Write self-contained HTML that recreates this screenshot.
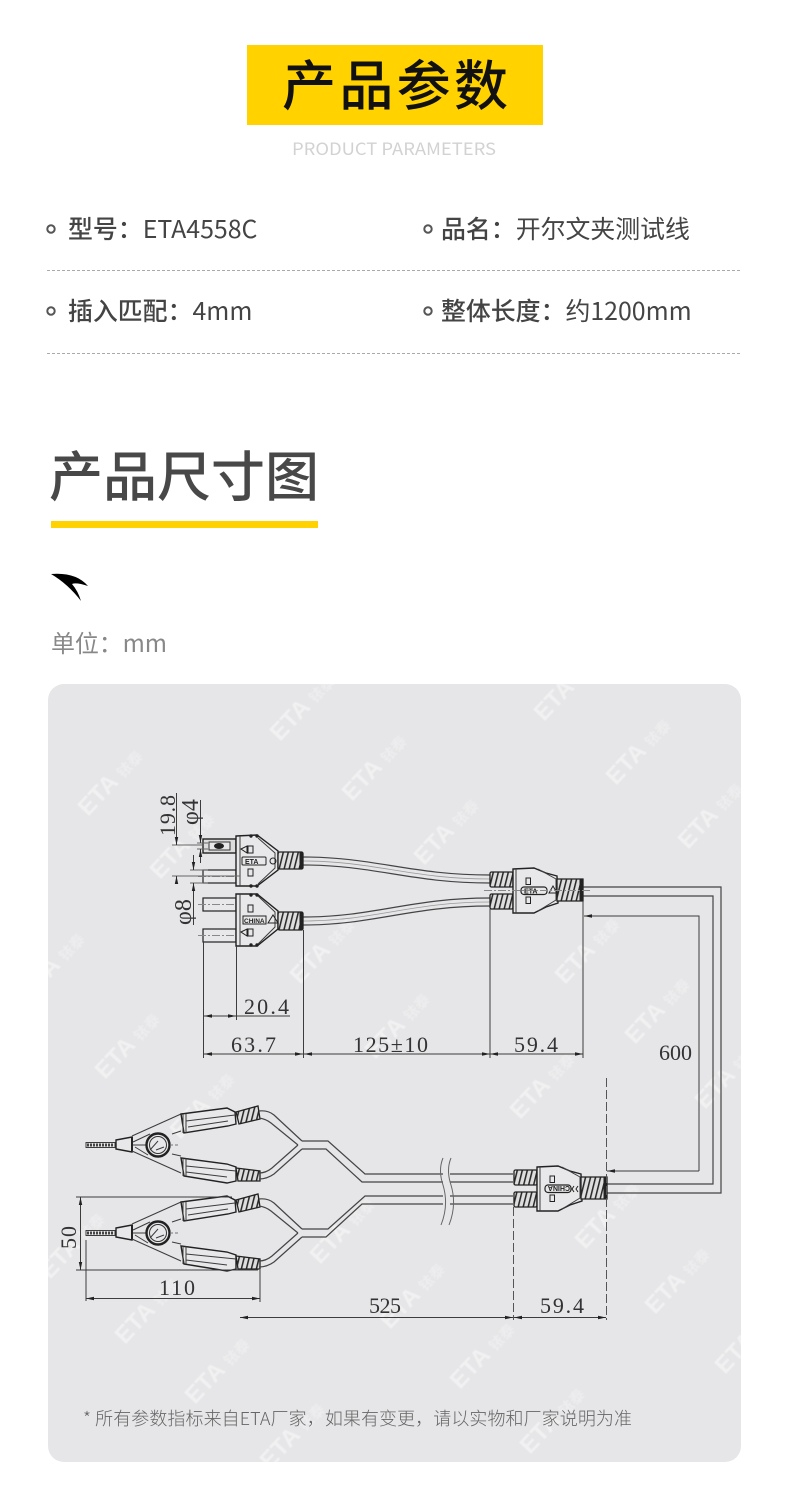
<!DOCTYPE html>
<html lang="zh"><head><meta charset="utf-8"><style>
html,body{margin:0;padding:0;background:#fff}
svg{display:block}
.n{font-family:"Noto Sans CJK SC","Liberation Sans",sans-serif}
.d{font-family:"Liberation Serif","Noto Serif CJK SC",serif;font-size:22px;fill:#333}
.wm{font-family:"Liberation Sans","Noto Sans CJK SC",sans-serif;font-weight:700;font-size:24px;fill:#fff;fill-opacity:.45}
.wm tspan{font-size:15px;fill-opacity:.3}
.l{fill:none;stroke:#3c3c3c;stroke-width:1}
.g{fill:none;stroke:#666;stroke-width:1}
.c{fill:none;stroke:#444;stroke-width:1.2}
.s{fill:url(#h);stroke:#222;stroke-width:1.3}
.b{fill:#e8e8ea;stroke:#222;stroke-width:1.4}
.t{font-family:"Liberation Sans",sans-serif;font-weight:700;font-size:7px;fill:#222}
</style></head><body>
<svg width="790" height="1509" viewBox="0 0 790 1509" xmlns="http://www.w3.org/2000/svg">
<defs>
<pattern id="h" width="5" height="8" patternUnits="userSpaceOnUse" patternTransform="skewX(-14)">
<rect width="5" height="8" fill="#dedede"/><rect width="1.6" height="8" fill="#2a2a2a"/></pattern>
<marker id="a" markerWidth="9" markerHeight="5" refX="8" refY="2.5" orient="auto-start-reverse" markerUnits="userSpaceOnUse"><path d="M0 .8L8 2.5L0 4.2Z" fill="#222"/></marker>
<clipPath id="p"><rect x="48" y="684" width="693" height="778" rx="16"/></clipPath>
<filter id="bl"><feGaussianBlur stdDeviation=".6"/></filter>
<g id="clip">
<path class="l" d="M86 1142.5H115V1147.5H86Z"/>
<path d="M87 1145H114" stroke="#444" stroke-width="3" stroke-dasharray="2 1"/>
<path class="b" d="M116 1140L132 1137V1152L116 1149Z"/>
<path class="l" d="M132 1145H146"/><path d="M132 1137V1152" stroke="#222" stroke-width="2"/>
<path class="l" d="M132 1136L181 1114M133 1142L150 1134M172 1134L181 1131"/>
<path class="l" d="M132 1151L181 1173M135 1147L148 1155M172 1154L181 1156"/>
<circle cx="158" cy="1145" r="11.5" fill="#e8e8ea" stroke="#222" stroke-width="2.4"/>
<circle cx="158" cy="1145" r="8.5" fill="none" stroke="#333" stroke-width="1"/>
<path class="l" d="M150 1150L158 1141M156 1150L164 1147"/>
<path d="M170 1145H178" stroke="#777" stroke-dasharray="3 2"/>
<path class="b" d="M181 1114L227 1108L235 1112L236 1124L228 1126L184 1133Z"/>
<path class="l" d="M183 1114V1133M186 1114V1133M186 1121L235 1115M188 1127L228 1121"/>
<path class="s" d="M236 1112L258 1106L260 1119L239 1124Z"/>
<path class="b" d="M181 1158L227 1164L236 1167V1181L227 1183L184 1176Z"/>
<path class="l" d="M183 1158V1176M186 1158V1176M186 1166L236 1171M186 1172L227 1177"/>
<path class="s" d="M236 1168L260 1171V1181L238 1181Z"/>
<path class="c" d="M259 1111Q268 1110 274 1115L302 1141M259 1118Q266 1119 271 1123L298 1145"/>
<path class="c" d="M259 1173Q266 1173 272 1168L298 1145M259 1179Q267 1179 274 1174L302 1149"/>
</g>
<g id="plug">
<rect class="s" x="490" y="872" width="23" height="15" rx="1.5"/>
<rect class="s" x="490" y="894" width="23" height="15" rx="1.5"/>
<path class="b" d="M513 869L534 868L546 873L557 876L558 903L546 907L534 913L513 913Z"/>
<path class="l" d="M516 869V913M538 869L556 879V900L538 911"/>
<path class="s" d="M557 879L583 879V901L557 901Z"/>
<path d="M581 879V901" stroke="#222" stroke-width="3"/>
<rect x="526" y="878" width="4.5" height="6.5" fill="#e8e8ea" stroke="#222"/>
<rect x="526" y="897" width="4.5" height="6.5" fill="#e8e8ea" stroke="#222"/>
<rect x="521" y="887" width="26" height="7.5" rx="3" fill="#e8e8ea" stroke="#222" stroke-width="1.2"/>
</g>
</defs>

<rect width="790" height="1509" fill="#fff"/>
<rect x="247" y="45" width="296" height="80" fill="#ffd200"/>
<text class="n" x="282" y="105" font-size="54" font-weight="500" fill="#111" textLength="226">产品参数</text>
<text class="n" x="292" y="155" font-size="17" fill="#d2d2d2" textLength="204" lengthAdjust="spacingAndGlyphs">PRODUCT PARAMETERS</text>

<circle cx="51" cy="229" r="3.7" fill="none" stroke="#555" stroke-width="2"/>
<circle cx="428" cy="229" r="3.7" fill="none" stroke="#555" stroke-width="2"/>
<circle cx="51" cy="311" r="3.7" fill="none" stroke="#555" stroke-width="2"/>
<circle cx="428" cy="311" r="3.7" fill="none" stroke="#555" stroke-width="2"/>
<g class="n" font-size="24.9" fill="#444">
<text x="68" y="238"><tspan font-weight="500">型号：</tspan><tspan font-weight="400">ETA4558C</tspan></text>
<text x="441" y="238"><tspan font-weight="500">品名：</tspan><tspan font-weight="400">开尔文夹测试线</tspan></text>
<text x="68" y="320"><tspan font-weight="500">插入匹配：</tspan><tspan font-weight="400">4mm</tspan></text>
<text x="441" y="320"><tspan font-weight="500">整体长度：</tspan><tspan font-weight="400">约1200mm</tspan></text>
</g>
<path d="M47 270.5H741M47 353.5H741" stroke="#aaa" stroke-width="1" stroke-dasharray="3 2"/>

<text class="n" x="49" y="496" font-size="54" font-weight="500" fill="#484848" textLength="270">产品尺寸图</text>
<rect x="51" y="521" width="267" height="7" fill="#ffd200"/>
<path d="M51 574Q76 572 88 586Q76 582 72 584Q78 591 81 601Q68 584 51 574Z" fill="#000"/>
<text class="n" x="51" y="652" font-size="24" fill="#888" textLength="116">单位：mm</text>

<rect x="48" y="684" width="693" height="778" rx="16" fill="#e6e6e8"/>
<g clip-path="url(#p)">
<g class="wm" filter="url(#bl)">
<text transform="translate(88,817) rotate(-47)">ETA <tspan>铱泰</tspan></text>
<text transform="translate(280,742) rotate(-47)">ETA <tspan>铱泰</tspan></text>
<text transform="translate(352,802) rotate(-47)">ETA <tspan>铱泰</tspan></text>
<text transform="translate(544,722) rotate(-47)">ETA <tspan>铱泰</tspan></text>
<text transform="translate(616,786) rotate(-47)">ETA <tspan>铱泰</tspan></text>
<text transform="translate(424,866) rotate(-47)">ETA <tspan>铱泰</tspan></text>
<text transform="translate(688,850) rotate(-47)">ETA <tspan>铱泰</tspan></text>
<text transform="translate(160,880) rotate(-47)">ETA <tspan>铱泰</tspan></text>
<text transform="translate(30,1000) rotate(-47)">ETA <tspan>铱泰</tspan></text>
<text transform="translate(565,985) rotate(-47)">ETA <tspan>铱泰</tspan></text>
<text transform="translate(300,985) rotate(-47)">ETA <tspan>铱泰</tspan></text>
<text transform="translate(105,1080) rotate(-47)">ETA <tspan>铱泰</tspan></text>
<text transform="translate(635,1045) rotate(-47)">ETA <tspan>铱泰</tspan></text>
<text transform="translate(375,1060) rotate(-47)">ETA <tspan>铱泰</tspan></text>
<text transform="translate(705,1110) rotate(-47)">ETA <tspan>铱泰</tspan></text>
<text transform="translate(180,1140) rotate(-47)">ETA <tspan>铱泰</tspan></text>
<text transform="translate(520,1120) rotate(-47)">ETA <tspan>铱泰</tspan></text>
<text transform="translate(50,1280) rotate(-47)">ETA <tspan>铱泰</tspan></text>
<text transform="translate(320,1265) rotate(-47)">ETA <tspan>铱泰</tspan></text>
<text transform="translate(585,1250) rotate(-47)">ETA <tspan>铱泰</tspan></text>
<text transform="translate(125,1345) rotate(-47)">ETA <tspan>铱泰</tspan></text>
<text transform="translate(655,1315) rotate(-47)">ETA <tspan>铱泰</tspan></text>
<text transform="translate(390,1330) rotate(-47)">ETA <tspan>铱泰</tspan></text>
<text transform="translate(195,1405) rotate(-47)">ETA <tspan>铱泰</tspan></text>
<text transform="translate(460,1390) rotate(-47)">ETA <tspan>铱泰</tspan></text>
<text transform="translate(725,1375) rotate(-47)">ETA <tspan>铱泰</tspan></text>
<text transform="translate(270,1470) rotate(-47)">ETA <tspan>铱泰</tspan></text>
<text transform="translate(530,1455) rotate(-47)">ETA <tspan>铱泰</tspan></text>
</g>
</g>

<!-- cables top -->
<path class="c" d="M303 857C375 857 410 875 490 875M303 865C375 865 410 883 490 883M303 917C375 917 410 898 490 898M303 925C375 925 410 906 490 906"/>
<path d="M303 861C375 861 410 879 490 879M303 921C375 921 410 902 490 902" fill="none" stroke="#999" stroke-width=".8"/>
<path class="c" d="M583 887H721V1193H607M583 896H713V1184H607"/>

<!-- top-left plugs -->
<rect x="203" y="839" width="33" height="14" fill="#dcdcdc" stroke="#222" stroke-width="1.4"/>
<rect x="209" y="842" width="21" height="8" fill="#e8e8ea" stroke="#333"/>
<ellipse cx="219" cy="846" rx="5" ry="3" fill="#222"/>
<rect x="203" y="870" width="33" height="13" fill="#e8e8ea" stroke="#222" stroke-width="1.2"/>
<rect x="203" y="898" width="33" height="13" fill="#e8e8ea" stroke="#222" stroke-width="1.2"/>
<rect x="203" y="929" width="33" height="13" fill="#e8e8ea" stroke="#222" stroke-width="1.2"/>
<path d="M198 876.5H240M198 904.5H240M198 935.5H240" stroke="#888" stroke-dasharray="8 2 2 2"/>

<path class="b" d="M236 836L257 835L278 851L278 870L257 886L236 886Z"/>
<path class="l" d="M240 836V886M258 838L275 853V868L258 884"/>
<circle cx="251" cy="836" r="1.7" fill="#222"/><circle cx="257" cy="836" r="1.7" fill="#222"/>
<circle cx="251" cy="886" r="1.7" fill="#222"/><circle cx="257" cy="886" r="1.7" fill="#222"/>
<rect class="s" x="278" y="852" width="25" height="17" rx="1.5"/>
<path d="M301 852V869" stroke="#222" stroke-width="3"/>

<path class="b" d="M236 894L257 894L278 911L278 929L257 946L236 946Z"/>
<path class="l" d="M240 894V946M258 896L275 912V927L258 944"/>
<circle cx="251" cy="895" r="1.7" fill="#222"/><circle cx="257" cy="895" r="1.7" fill="#222"/>
<circle cx="251" cy="945" r="1.7" fill="#222"/><circle cx="257" cy="945" r="1.7" fill="#222"/>
<rect class="s" x="278" y="912" width="25" height="18" rx="1.5"/>
<path d="M301 912V930" stroke="#222" stroke-width="3"/>
<!-- plug details -->
<path d="M241 849L247 846V853Z" fill="none" stroke="#222"/><rect x="248" y="846" width="5" height="7" fill="#e8e8ea" stroke="#222"/>
<rect x="248" y="869" width="5" height="7" fill="#e8e8ea" stroke="#222"/>
<rect x="242" y="857" width="24" height="8" rx="1" fill="#e8e8ea" stroke="#222"/>
<text class="t" x="245" y="864">ETA</text>
<circle cx="273" cy="861" r="3" fill="none" stroke="#222"/>
<rect x="248" y="905" width="5" height="7" fill="#e8e8ea" stroke="#222"/>
<path d="M241 932L247 929V936Z" fill="none" stroke="#222"/><rect x="248" y="929" width="5" height="7" fill="#e8e8ea" stroke="#222"/>
<rect x="243" y="916" width="23" height="8" fill="#e8e8ea" stroke="#222"/>
<text class="t" x="244" y="923" style="font-size:6.5px">CHINA</text>
<path d="M268 923L273 915L278 923Z" fill="none" stroke="#222"/>

<!-- top dims -->
<path class="g" d="M172 845H204M172 876H240M197 843H208M197 849H208M190 870H208M190 883H208"/>
<path class="l" d="M176.5 793V845" marker-end="url(#a)"/>
<path class="l" d="M176.5 883V876" marker-end="url(#a)"/>
<path class="l" d="M200.5 800V843" marker-end="url(#a)"/>
<path class="l" d="M200.5 863V849" marker-end="url(#a)"/>
<path class="l" d="M193.5 855V870" marker-end="url(#a)"/>
<path class="l" d="M193.5 925V883" marker-end="url(#a)"/>
<text class="d" transform="translate(175,836) rotate(-90)" textLength="41">19.8</text>
<text class="d" transform="translate(198,825) rotate(-90)" style="font-size:24px">φ4</text>
<text class="d" transform="translate(191,925) rotate(-90)" style="font-size:24px">φ8</text>

<use href="#plug"/>
<text class="t" x="524" y="893.5">ETA</text>
<path d="M549 893L553 886L557 893Z" fill="none" stroke="#222"/>
<path d="M484 890.5H590" stroke="#888" stroke-dasharray="8 2 2 2"/>
<path class="l" d="M203.5 942V1058M236.5 946V1020M303.5 930V1058M490 909V1058M583 901V1058"/>
<path class="l" d="M204 1016H236" marker-start="url(#a)" marker-end="url(#a)"/>
<path class="l" d="M236 1016H290"/>
<path class="l" d="M204 1054H303" marker-start="url(#a)" marker-end="url(#a)"/>
<path class="l" d="M304 1054H490" marker-start="url(#a)" marker-end="url(#a)"/>
<path class="l" d="M490 1054H583" marker-start="url(#a)" marker-end="url(#a)"/>
<path class="l" d="M699 1171V916H584" marker-end="url(#a)"/>
<path class="l" d="M699 1171H607" marker-end="url(#a)"/>
<text class="d" x="244" y="1014" textLength="45">20.4</text>
<text class="d" x="231" y="1052" textLength="45">63.7</text>
<text class="d" x="353" y="1052" textLength="75">125±10</text>
<text class="d" x="514" y="1052" textLength="44">59.4</text>
<rect x="657" y="1040" width="36" height="26" fill="#e6e6e8"/>
<text class="d" x="659" y="1060" textLength="33">600</text>

<!-- bottom wires -->
<use href="#clip"/>
<use href="#clip" transform="translate(0,88)"/>
<path class="c" d="M302 1141H328L365 1174H513M302 1149H326L362 1182H513M302 1229H328L365 1196H513M302 1237H326L362 1204H513"/>
<rect x="443" y="1160" width="7" height="62" fill="#e6e6e8"/>
<path class="g" d="M443 1158Q438 1170 443 1185Q449 1205 441 1225M451 1158Q446 1170 451 1185Q457 1205 449 1225"/>
<use href="#plug" transform="translate(24,298)"/>
<text class="t" transform="translate(570,1186) rotate(180)">CHINA</text>
<path d="M574 1186L572 1189L574 1192M578 1186L576 1189L578 1192" fill="none" stroke="#222"/>
<path d="M606.5 1078V1320M513.5 1207V1320" stroke="#555" stroke-dasharray="9 3" fill="none"/>
<path class="l" d="M240 1317.5H513" marker-start="url(#a)" marker-end="url(#a)"/>
<path class="l" d="M514 1317.5H606" marker-start="url(#a)" marker-end="url(#a)"/>
<text class="d" x="369" y="1313" textLength="32">525</text>
<text class="d" x="540" y="1313" textLength="44">59.4</text>
<path class="l" d="M76 1197H232M76 1270H258M86 1240V1301M260 1270V1302"/>
<path class="l" d="M80.5 1197V1270" marker-start="url(#a)" marker-end="url(#a)"/>
<path class="l" d="M86 1298.5H260" marker-start="url(#a)" marker-end="url(#a)"/>
<text class="d" transform="translate(76,1249) rotate(-90)" textLength="23">50</text>
<text class="d" x="159" y="1295" textLength="36">110</text>

<text class="n" x="83" y="1425" font-size="18" font-weight="300" fill="#666" textLength="549">* 所有参数指标来自ETA厂家，如果有变更，请以实物和厂家说明为准</text>
</svg>
</body></html>
